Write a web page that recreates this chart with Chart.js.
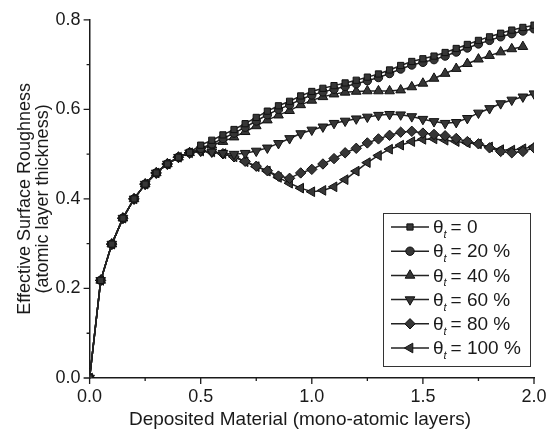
<!DOCTYPE html>
<html>
<head>
<meta charset="utf-8">
<script src="https://cdn.jsdelivr.net/npm/chart.js@4.4.1/dist/chart.umd.min.js"></script>
<style>
 html, body { margin: 0; padding: 0; background: #fff; }
 #wrap { width: 548px; height: 430px; }
</style>
</head>
<body>
<div id="wrap"><canvas id="roughChart" width="548" height="430"></canvas></div>
<script>
// deposited material (mono-atomic layers)
const xValues = [
 0.00, 0.05, 0.10, 0.15, 0.20, 0.25, 0.30, 0.35, 0.40, 0.45,
 0.50, 0.55, 0.60, 0.65, 0.70, 0.75, 0.80, 0.85, 0.90, 0.95,
 1.00, 1.05, 1.10, 1.15, 1.20, 1.25, 1.30, 1.35, 1.40, 1.45,
 1.50, 1.55, 1.60, 1.65, 1.70, 1.75, 1.80, 1.85, 1.90, 1.95, 2.00
];

// effective surface roughness for each theta_t
const theta0 = [
 0.000, 0.218, 0.299, 0.357, 0.400, 0.433, 0.458, 0.478, 0.493, 0.504,
 0.520, 0.531, 0.543, 0.555, 0.568, 0.582, 0.596, 0.608, 0.618, 0.630,
 0.640, 0.647, 0.653, 0.659, 0.665, 0.672, 0.679, 0.688, 0.698, 0.707,
 0.713, 0.719, 0.727, 0.736, 0.745, 0.754, 0.762, 0.770, 0.777, 0.783, 0.788
];
const theta20 = [
 0.000, 0.218, 0.299, 0.357, 0.400, 0.433, 0.458, 0.478, 0.493, 0.503,
 0.513, 0.523, 0.535, 0.547, 0.560, 0.574, 0.588, 0.600, 0.610, 0.622,
 0.632, 0.639, 0.645, 0.651, 0.657, 0.664, 0.671, 0.680, 0.690, 0.699,
 0.705, 0.711, 0.719, 0.728, 0.737, 0.746, 0.754, 0.762, 0.769, 0.775, 0.780
];
const theta40 = [
 0.000, 0.218, 0.299, 0.357, 0.400, 0.433, 0.458, 0.478, 0.493, 0.503,
 0.512, 0.520, 0.528, 0.538, 0.550, 0.563, 0.576, 0.587, 0.597, 0.610,
 0.620, 0.628, 0.634, 0.638, 0.640, 0.641, 0.641, 0.641, 0.643, 0.650,
 0.658, 0.669, 0.680, 0.691, 0.702, 0.712, 0.720, 0.728, 0.735, 0.740, null
];
const theta60 = [
 0.000, 0.218, 0.299, 0.357, 0.400, 0.433, 0.458, 0.478, 0.493, 0.503,
 0.507, 0.505, 0.502, 0.500, 0.502, 0.507, 0.514, 0.524, 0.535, 0.546,
 0.554, 0.561, 0.569, 0.574, 0.579, 0.583, 0.587, 0.589, 0.588, 0.584,
 0.578, 0.573, 0.569, 0.571, 0.580, 0.592, 0.602, 0.613, 0.621, 0.628, 0.635
];
const theta80 = [
 0.000, 0.218, 0.299, 0.357, 0.400, 0.433, 0.458, 0.478, 0.493, 0.503,
 0.507, 0.505, 0.501, 0.494, 0.484, 0.473, 0.463, 0.451, 0.446, 0.458,
 0.466, 0.478, 0.490, 0.503, 0.513, 0.525, 0.534, 0.542, 0.549, 0.551,
 0.547, 0.544, 0.541, 0.535, 0.528, 0.523, 0.514, 0.506, 0.503, 0.506, 0.514
];
const theta100 = [
 0.000, 0.218, 0.299, 0.357, 0.400, 0.433, 0.458, 0.478, 0.493, 0.503,
 0.507, 0.505, 0.501, 0.494, 0.483, 0.472, 0.462, 0.448, 0.435, 0.424,
 0.416, 0.419, 0.427, 0.443, 0.462, 0.481, 0.497, 0.511, 0.520, 0.528,
 0.533, 0.534, 0.531, 0.528, 0.525, 0.523, 0.516, 0.510, 0.509, 0.512, 0.517
];

const seriesLabels = ['0', '20 %', '40 %', '60 %', '80 %', '100 %'];
const yTicks = [0.0, 0.2, 0.4, 0.6, 0.8];
const xTicks = [0.0, 0.5, 1.0, 1.5, 2.0];
const xTitle = 'Deposited Material (mono-atomic layers)';

const FONT = "'Liberation Sans', Arial, sans-serif";
const INK = '#1a1a1a';

function pts(ys) {
 return xValues.map(function (x, i) { return { x: x, y: ys[i] }; });
}

const markerStyles = [
 { pointStyle: 'rect', pointRadius: 4.4, pointRotation: 0 },
 { pointStyle: 'circle', pointRadius: 4.2, pointRotation: 0 },
 { pointStyle: 'triangle', pointRadius: 5.6, pointRotation: 0 },
 { pointStyle: 'triangle', pointRadius: 5.6, pointRotation: 180 },
 { pointStyle: 'rectRot', pointRadius: 5.2, pointRotation: 0 },
 { pointStyle: 'triangle', pointRadius: 5.6, pointRotation: -90 }
];
const allSeries = [theta0, theta20, theta40, theta60, theta80, theta100];

const datasets = allSeries.map(function (ys, i) {
 return Object.assign({
  label: seriesLabels[i],
  data: pts(ys),
  borderColor: '#222',
  borderWidth: 1.5,
  backgroundColor: '#333',
  pointBackgroundColor: '#363636',
  pointBorderColor: '#111',
  pointBorderWidth: 1,
  spanGaps: false,
  tension: 0
 }, markerStyles[i]);
});

// outward ticks, major and minor, plus the x title
const tickPlugin = {
 id: 'outTicks',
 afterDraw: function (chart) {
  const c = chart.ctx, a = chart.chartArea;
  const xs = chart.scales.x, ys = chart.scales.y;
  c.save();
  c.strokeStyle = INK;
  c.lineWidth = 1.3;
  c.beginPath();
  for (let v = 0; v <= 8; v++) {
   const py = ys.getPixelForValue(v / 10);
   const len = v % 2 === 0 ? 6 : 3;
   c.moveTo(a.left - len, py); c.lineTo(a.left, py);
  }
  for (let v = 0; v <= 8; v++) {
   const px = xs.getPixelForValue(v / 4);
   const len = v % 2 === 0 ? 6 : 3;
   c.moveTo(px, a.bottom); c.lineTo(px, a.bottom + len);
  }
  c.stroke();
  c.fillStyle = INK;
  c.font = '19px ' + FONT;
  c.textAlign = 'center';
  c.textBaseline = 'middle';
  c.fillText(xTitle, 300, 420);
  c.restore();
 }
};

// boxed legend with theta_t labels
const legendPlugin = {
 id: 'boxLegend',
 afterDraw: function (chart) {
  const c = chart.ctx;
  const box = { l: 383, t: 213, r: 530, b: 366 };
  c.save();
  c.fillStyle = '#fff';
  c.fillRect(box.l, box.t, box.r - box.l, box.b - box.t);
  c.strokeStyle = '#333';
  c.lineWidth = 1;
  c.strokeRect(box.l + 0.5, box.t + 0.5, box.r - box.l, box.b - box.t);
  chart.data.datasets.forEach(function (ds, i) {
   const cy = 227 + i * 24.2;
   c.strokeStyle = ds.borderColor;
   c.lineWidth = 1.5;
   c.beginPath();
   c.moveTo(391, cy); c.lineTo(429, cy);
   c.stroke();
   c.fillStyle = ds.pointBackgroundColor;
   c.strokeStyle = ds.pointBorderColor;
   c.lineWidth = 1;
   Chart.helpers.drawPoint(c, {
    pointStyle: ds.pointStyle,
    radius: ds.pointRadius,
    rotation: ds.pointRotation,
    borderWidth: 1
   }, 410, cy);
   c.fillStyle = INK;
   c.textBaseline = 'middle';
   c.font = '19px ' + FONT;
   c.fillText('\u03B8', 433, cy + 1);
   const tw = c.measureText('\u03B8').width;
   c.font = 'italic 11px ' + FONT;
   c.fillText('t', 433 + tw, cy + 8);
   c.font = '19px ' + FONT;
   c.fillText('= ' + ds.label, 433 + tw + 7, cy + 1);
  });
  c.restore();
 }
};

const ctx = document.getElementById('roughChart').getContext('2d');
window.roughChart = new Chart(ctx, {
 type: 'line',
 data: { datasets: datasets },
 plugins: [tickPlugin, legendPlugin],
 options: {
  responsive: false,
  animation: false,
  devicePixelRatio: 1,
  layout: { padding: { left: 16, top: 19, right: 0, bottom: 0 } },
  plugins: { legend: { display: false }, tooltip: { enabled: false } },
  scales: {
   x: {
    type: 'linear',
    min: 0,
    max: 2,
    afterFit: function (s) { s.height = 52; s.paddingRight = 14; s.paddingLeft = 0; },
    afterBuildTicks: function (s) { s.ticks = xTicks.map(function (v) { return { value: v }; }); },
    grid: { display: false, drawTicks: false },
    border: { display: true, color: INK, width: 1.5 },
    ticks: {
     autoSkip: false,
     maxRotation: 0,
     padding: 8,
     color: INK,
     font: { family: FONT, size: 18 },
     callback: function (v) { return Number(v).toFixed(1); }
    }
   },
   y: {
    min: 0,
    max: 0.8,
    afterFit: function (s) { s.width = 73.6; },
    afterBuildTicks: function (s) { s.ticks = yTicks.map(function (v) { return { value: v }; }); },
    grid: { display: false, drawTicks: false },
    border: { display: true, color: INK, width: 1.5 },
    ticks: {
     autoSkip: false,
     padding: 9,
     color: INK,
     font: { family: FONT, size: 18 },
     callback: function (v) { return Number(v).toFixed(1); }
    },
    title: {
     display: true,
     text: ['Effective Surface Roughness', '(atomic layer thickness)'],
     color: INK,
     font: { family: FONT, size: 18, lineHeight: 1.0 },
     padding: { top: 0, bottom: 0 }
    }
   }
  }
 }
});
</script>
</body>
</html>
